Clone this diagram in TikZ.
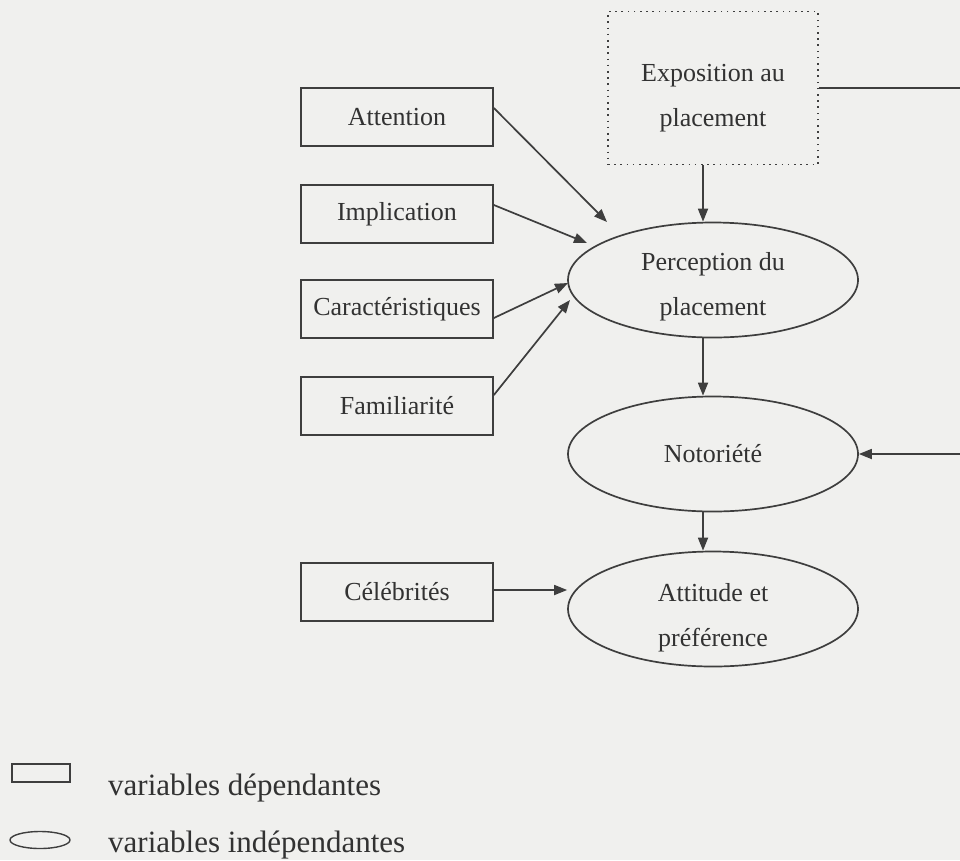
\documentclass[tikz,border=0pt]{standalone}
\usepackage{fontspec}
\setmainfont{Liberation Serif}
\usetikzlibrary{shapes.geometric,arrows.meta,calc}
\definecolor{ink}{RGB}{62,62,62}
\definecolor{txt}{RGB}{50,50,50}
\definecolor{bg}{RGB}{240,240,238}
\begin{document}
\begin{tikzpicture}[x=1pt,y=-1pt,
  every node/.style={text=txt, font=\fontsize{26}{45}\selectfont},
  box/.style={draw=ink, line width=1.7pt, rectangle, minimum width=192pt, minimum height=58pt, inner sep=0pt},
  dotbox/.style={draw=ink, line width=1.7pt, dash pattern=on 1.6pt off 4.6pt, rectangle, minimum width=210pt, minimum height=153pt, inner sep=0pt},
  oval/.style={draw=ink, line width=1.7pt, ellipse, minimum width=290pt, minimum height=115pt, inner sep=0pt},
  lbl/.style={inner sep=0pt, align=center},
  arr/.style={draw=ink, line width=1.7pt, -{Triangle[length=13pt,width=10pt]}},
  link/.style={draw=ink, line width=1.7pt},
  legendtext/.style={anchor=base west, inner sep=0pt, font=\fontsize{31}{36}\selectfont}]
\fill[bg] (0,0) rectangle (960,860);
\useasboundingbox (0,0) rectangle (960,860);

% nodes
\node[box] (att) at (397,117) {Attention};
\node[box] (imp) at (397,214) {Implication};
\node[box] (car) at (397,309) {Caractéristiques};
\node[box] (fam) at (397,406) {Familiarité};
\node[box] (cel) at (397,592) {Célébrités};
\node[dotbox] (exp) at (713,88) {};
\node[lbl] (expT) at (713,98) {Exposition au\\placement};
\node[oval] (per) at (713,280) {};
\node[lbl] (perT) at (713,287) {Perception du\\placement};
\node[oval] (not) at (713,454) {Notoriété};
\node[oval] (atti) at (713,609) {};
\node[lbl] (attiT) at (713,618) {Attitude et\\préférence};

% free ends at the right border
\coordinate (e1) at (960,88);
\coordinate (e2) at (960,454);

% tips near perception
\coordinate (t1) at ($(per.center)+(-106,-58)$);
\coordinate (t2) at ($(per.center)+(-126,-37)$);
\coordinate (t3) at ($(per.center)+(-145,3)$);
\coordinate (t4) at ($(per.center)+(-143,20)$);

% connectors
\draw[arr] ([yshift=9pt]att.east) -- (t1);
\draw[arr] ([yshift=9pt]imp.east) -- (t2);
\draw[arr] ([yshift=-9pt]car.east) -- (t3);
\draw[arr] ([yshift=11pt]fam.east) -- (t4);
\draw[arr] ([yshift=2pt]cel.east) -- ([yshift=2pt]cel.east -| atti.west);
\draw[arr] ([xshift=-10pt]exp.south) -- ([xshift=-10pt]per.north);
\draw[arr] ([xshift=-10pt]per.south) -- ([xshift=-10pt]not.north);
\draw[arr] ([xshift=-10pt]not.south) -- ([xshift=-10pt]atti.north);
\draw[link] (exp.east) -- (e1);
\draw[arr] (e2) -- (not.east);

% legend
\node[draw=ink, line width=1.4pt, rectangle, minimum width=58pt, minimum height=18pt, inner sep=0pt] (lr) at (41,773) {};
\node[draw=ink, line width=1.4pt, ellipse, minimum width=60pt, minimum height=17pt, inner sep=0pt] (le) at (40,840) {};
\node[legendtext] (lt1) at (108,795) {variables dépendantes};
\node[legendtext] (lt2) at (108,852) {variables indépendantes};
\end{tikzpicture}
\end{document}
